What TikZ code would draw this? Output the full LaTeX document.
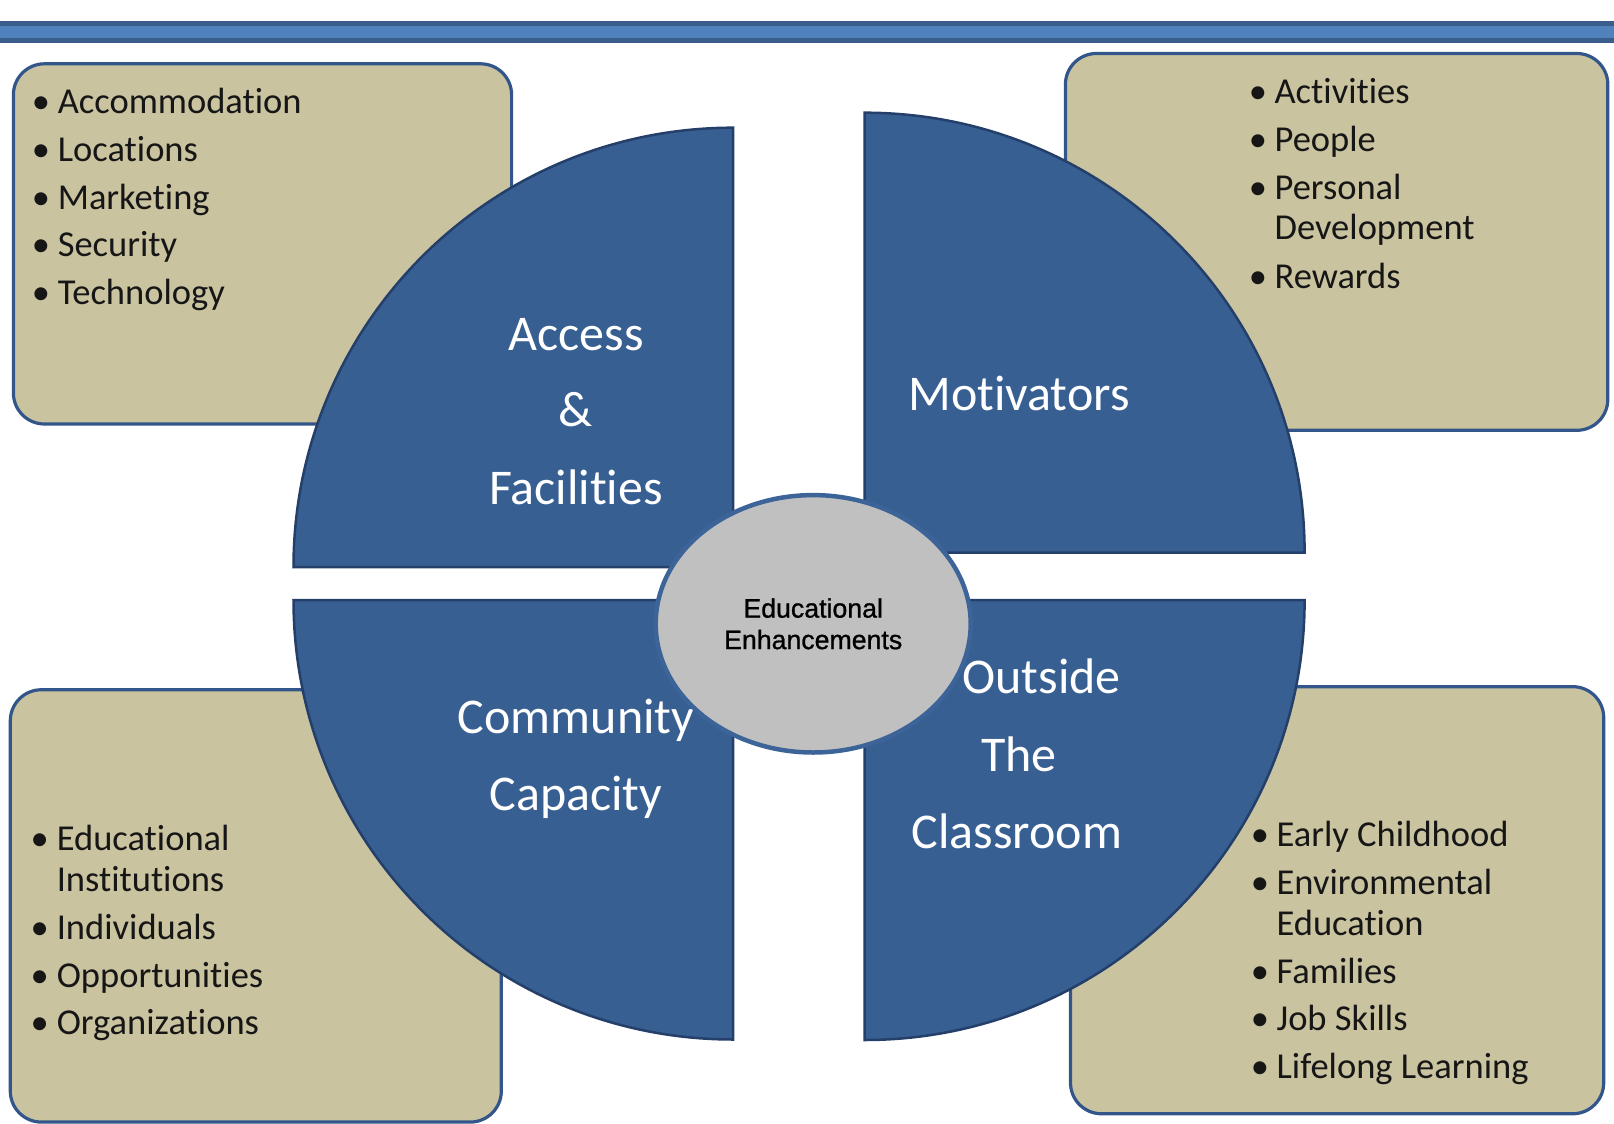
\documentclass[tikz,border=0pt]{standalone}
\usepackage{fontspec}
\setmainfont{Carlito}[Ligatures={NoCommon}]
\newfontfamily\arialfont{Liberation Sans}[FakeBold=1]
\usetikzlibrary{shapes.geometric}
\definecolor{tanfill}{HTML}{CAC3A0}
\definecolor{boxline}{HTML}{33568A}
\definecolor{quadfill}{HTML}{375F92}
\definecolor{quadline}{HTML}{24406A}
\definecolor{ellfill}{HTML}{C0C0C0}
\definecolor{ellline}{HTML}{3D6499}
\definecolor{bardark}{HTML}{3A5E8C}
\definecolor{barlight}{HTML}{4F81BD}
\definecolor{itemtext}{HTML}{161616}
\begin{document}
\begin{tikzpicture}[x=1pt,y=1pt,
  box/.style={rectangle, fill=tanfill, draw=boxline, line width=3.2pt, rounded corners=31pt, inner sep=0pt},
  quad/.style={fill=quadfill, draw=quadline, line width=2.5pt},
  qlabel/.style={text=white, font=\fontsize{50}{60}\selectfont, inner sep=0pt, anchor=base},
  item/.style={text=itemtext, font=\fontsize{36.5}{44}\selectfont, inner sep=0pt, anchor=base west},
  bul/.style={text=itemtext, font=\fontsize{36.5}{44}\selectfont, inner sep=0pt, anchor=base},
  ]
\useasboundingbox (0,0) rectangle (1614,-1124);
% top bar
\fill[bardark] (0,-21) rectangle (1614,-42.7);
\fill[barlight] (0,-26) rectangle (1614,-37.7);
% boxes
\node[box, minimum width=498.2pt, minimum height=360.2pt] (tlbox) at (262.5,-243.9) {};
\node[box, minimum width=542.4pt, minimum height=376.8pt] (trbox) at (1336.6,-241.9) {};
\node[box, minimum width=491pt, minimum height=432.3pt] (blbox) at (255.8,-905.9) {};
\node[box, minimum width=533.2pt, minimum height=427.1pt] (brbox) at (1337.1,-900.2) {};
% quadrants
\coordinate (ctl) at (733,-567.2);
\coordinate (ctr) at (864.6,-552.7);
\coordinate (cbl) at (733,-600);
\coordinate (cbr) at (864.6,-600);
\draw[quad] (ctl) -- ++(-439.5,0) arc[start angle=180,end angle=90,radius=439.5] -- cycle;
\draw[quad] (ctr) -- ++(0,440) arc[start angle=90,end angle=0,radius=440] -- cycle;
\draw[quad] (cbl) -- ++(-439.5,0) arc[start angle=180,end angle=270,radius=439.5] -- cycle;
\draw[quad] (cbr) -- ++(440,0) arc[start angle=0,end angle=-90,radius=440] -- cycle;
% quadrant labels
\node[qlabel] (acc) at (576,-350) {Access};
\node[qlabel] (amp) at (576,-426) {\&};
\node[qlabel] (fac) at (576,-504.4) {Facilities};
\node[qlabel] (mot) at (1019,-410.7) {Motivators};
\node[qlabel] (com) at (576,-733) {Community};
\node[qlabel] (cap) at (576,-810) {Capacity};
\node[qlabel] (out) at (1041.7,-693.8) {Outside};
\node[qlabel] (the) at (1019,-771) {The};
\node[qlabel] (cla) at (1017,-848) {Classroom};
% center ellipse
\node[ellipse, minimum width=315pt, minimum height=257.4pt, fill=ellfill, draw=ellline, line width=4.5pt, align=center, inner sep=0pt, font=\arialfont\fontsize{26.7}{31.5}\selectfont] (centre) at (813.2,-623.8) {Educational\\Enhancements};
% top-left list
\node[bul] (tlb1) at (41,-113.2) {•};
\node[item] (tl1) at (57.6,-113.2) {Accommodation};
\node[bul] (tlb2) at (41,-161.6) {•};
\node[item] (tl2) at (57.6,-161.6) {Locations};
\node[bul] (tlb3) at (41,-209) {•};
\node[item] (tl3) at (57.6,-209) {Marketing};
\node[bul] (tlb4) at (41,-256.3) {•};
\node[item] (tl4) at (57.6,-256.3) {Security};
\node[bul] (tlb5) at (41,-304.7) {•};
\node[item] (tl5) at (57.6,-304.7) {Technology};
% top-right list
\node[bul] (trb1) at (1258,-103) {•};
\node[item] (tr1) at (1274.4,-103) {Activities};
\node[bul] (trb2) at (1258,-151.3) {•};
\node[item] (tr2) at (1274.4,-151.3) {People};
\node[bul] (trb3) at (1258,-199.7) {•};
\node[item] (tr3) at (1274.4,-199.7) {Personal};
\node[item] (tr3b) at (1274.4,-239.8) {Development};
\node[bul] (trb4) at (1258,-288.2) {•};
\node[item] (tr4) at (1274.4,-288.2) {Rewards};
% bottom-left list
\node[bul] (blb1) at (39.6,-850.2) {•};
\node[item] (bl1) at (56.6,-850.2) {Educational};
\node[item] (bl1b) at (56.6,-891.4) {Institutions};
\node[bul] (blb2) at (39.6,-939.8) {•};
\node[item] (bl2) at (56.6,-939.8) {Individuals};
\node[bul] (blb3) at (39.6,-987.1) {•};
\node[item] (bl3) at (56.6,-987.1) {Opportunities};
\node[bul] (blb4) at (39.6,-1034.5) {•};
\node[item] (bl4) at (56.6,-1034.5) {Organizations};
% bottom-right list
\node[bul] (brb1) at (1260,-846.1) {•};
\node[item] (br1) at (1276.4,-846.1) {Early Childhood};
\node[bul] (brb2) at (1260,-894.5) {•};
\node[item] (br2) at (1276.4,-894.5) {Environmental};
\node[item] (br2b) at (1276.4,-935.6) {Education};
\node[bul] (brb3) at (1260,-983) {•};
\node[item] (br3) at (1276.4,-983) {Families};
\node[bul] (brb4) at (1260,-1030.4) {•};
\node[item] (br4) at (1276.4,-1030.4) {Job Skills};
\node[bul] (brb5) at (1260,-1078.7) {•};
\node[item] (br5) at (1276.4,-1078.7) {Lifelong Learning};
\end{tikzpicture}
\end{document}
